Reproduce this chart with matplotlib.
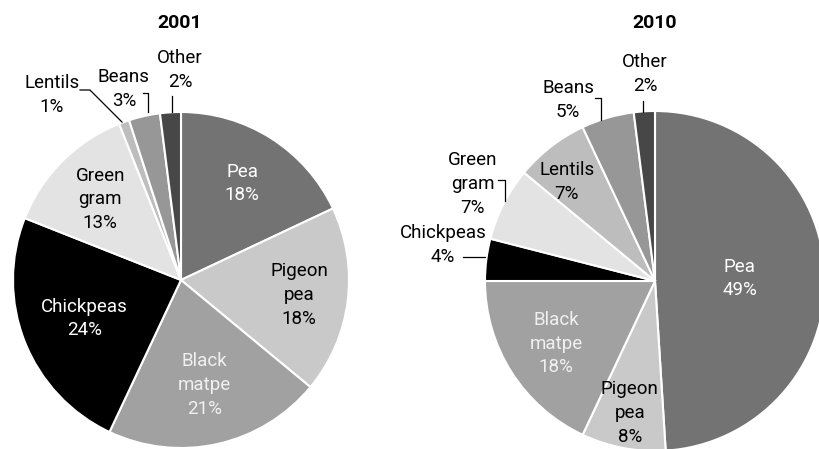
import matplotlib
matplotlib.use('Agg')
import matplotlib.pyplot as plt
import numpy as np

plt.rcParams['font.family'] = ['Roboto', 'DejaVu Sans']

crops = ['Pea', 'Pigeon\npea', 'Black\nmatpe', 'Chickpeas', 'Green\ngram', 'Lentils', 'Beans', 'Other']
share_2001 = [18, 18, 21, 24, 13, 1, 3, 2]
share_2010 = [49, 8, 18, 4, 7, 7, 5, 2]

colors = ['#737373', '#c9c9c9', '#a1a1a1', '#000000', '#e3e3e3', '#bdbdbd', '#979797', '#474747']
text_colors = ['white', 'black', '#f0f0f0', 'white', 'black', 'black', 'black', 'black']

# label placement in units of the radius: slices not listed in 'outside' sit on the mid-angle
layout_2001 = {
    'dist': 0.68,
    'outside': {5: (-0.77, 1.10), 6: (-0.34, 1.137), 7: (-0.006, 1.25)},
    'leaders': {5: [(-0.601, 1.131), (-0.542, 1.131), (-0.351, 0.94)],
                6: [(-0.226, 1.113), (-0.196, 1.113), (-0.196, 1.0)],
                7: [(-0.054, 1.095), (-0.054, 1.0)]},
    'dists': {1: 0.71, 2: 0.64, 3: 0.62},
}
layout_2010 = {
    'dist': 0.7,
    'outside': {3: (-1.247, 0.212), 4: (-1.071, 0.571), 5: (-0.518, 0.582),
                6: (-0.512, 1.065), 7: (-0.059, 1.218)},
    'leaders': {3: [(-1.129, 0.141), (-1.0, 0.141)],
                4: [(-0.924, 0.594), (-0.882, 0.594), (-0.882, 0.47)],
                6: [(-0.353, 1.076), (-0.318, 1.076), (-0.318, 0.948)],
                7: [(-0.071, 1.059), (-0.071, 0.994)]},
    'dists': {0: 0.5, 1: 0.79, 2: 0.69},
}

fig = plt.figure(figsize=(8.2, 4.49), dpi=100)


def draw_pie(rect, values, title, layout, title_xy):
    ax = fig.add_axes(rect)
    wedges, _ = ax.pie(values, colors=colors, startangle=90, counterclock=False,
                       wedgeprops=dict(edgecolor='white', linewidth=1.5))
    ax.set_xlim(-1, 1)
    ax.set_ylim(-1, 1)
    ax.set_aspect('equal')
    ax.set_axis_off()
    for w in wedges:
        w.set_clip_on(False)
    for i, w in enumerate(wedges):
        label = '%s\n%d%%' % (crops[i], values[i])
        if i in layout['outside']:
            x, y = layout['outside'][i]
            col = 'black'
        else:
            ang = np.deg2rad((w.theta1 + w.theta2) / 2)
            d = layout['dists'].get(i, layout['dist'])
            x, y = d * np.cos(ang), d * np.sin(ang)
            col = text_colors[i]
        ax.text(x, y, label, ha='center', va='center', fontsize=13.5,
                color=col, linespacing=1.4, clip_on=False)
    for pts in layout['leaders'].values():
        xs, ys = zip(*pts)
        ax.plot(xs, ys, color='black', lw=0.9, clip_on=False)
    fig.text(title_xy[0], title_xy[1], title, ha='center', va='center',
             fontsize=14, fontweight='bold')
    return ax


draw_pie([13 / 820, 1 / 449, 336 / 820, 336 / 449], share_2001, '2001', layout_2001,
         (180 / 820, 1 - 23 / 449))
draw_pie([485 / 820, -2 / 449, 340 / 820, 340 / 449], share_2010, '2010', layout_2010,
         (655 / 820, 1 - 23 / 449))

fig.savefig('out.png', dpi=100, facecolor='white')
